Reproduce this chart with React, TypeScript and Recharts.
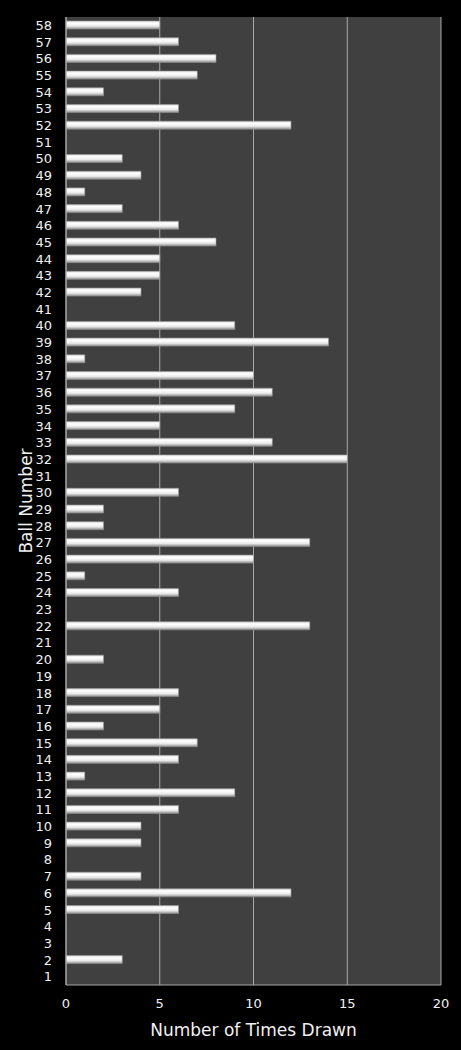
import { BarChart, Bar, XAxis, YAxis, CartesianGrid } from "recharts";

// ball numbers 1..58 and how many times each was drawn
const balls = Array.from({ length: 58 }, (_, i) => String(i + 1));
const timesDrawn = [
  0, 3, 0, 0, 6, 12, 4, 0, 4, 4,
  6, 9, 1, 6, 7, 2, 5, 6, 0, 2,
  0, 13, 0, 6, 1, 10, 13, 2, 2, 6,
  0, 15, 11, 5, 9, 11, 10, 1, 14, 9,
  0, 4, 5, 5, 8, 6, 3, 1, 4, 3,
  0, 12, 6, 2, 7, 8, 6, 5,
];
const xTicks = [0, 5, 10, 15, 20];

const data = balls.map((b, i) => ({ ball: b, count: timesDrawn[i] }));

const font = "'DejaVu Sans', Verdana, sans-serif";

export default function App() {
  return (
    <div style={{ position: "absolute", left: 0, top: 0, width: 461, height: 1050, background: "#000", fontFamily: font }}>
      <BarChart
        layout="vertical"
        width={461}
        height={1050}
        data={data}
        margin={{ top: 17, right: 20, left: 0, bottom: 0 }}
        barCategoryGap={0}
      >
        <defs>
          <linearGradient id="barShade" x1="0" y1="0" x2="0" y2="1">
            <stop offset="0%" stopColor="#e4e4e4" />
            <stop offset="30%" stopColor="#ffffff" />
            <stop offset="65%" stopColor="#e8e8e8" />
            <stop offset="100%" stopColor="#8c8c8c" />
          </linearGradient>
        </defs>
        <CartesianGrid horizontal={false} fill="#404040" stroke="#a8a8a8" strokeWidth={1} />
        <XAxis
          type="number"
          domain={[0, 20]}
          ticks={xTicks}
          height={65}
          tickLine={false}
          axisLine={{ stroke: "#a8a8a8" }}
          tick={{ fill: "#f0f0f0", fontSize: 13, fontFamily: font }}
          tickMargin={8}
          label={{ value: "Number of Times Drawn", position: "insideBottom", offset: 14, fill: "#f0f0f0", fontSize: 17, fontFamily: font }}
        />
        <YAxis
          type="category"
          dataKey="ball"
          reversed
          width={66}
          interval={0}
          tickLine={false}
          axisLine={{ stroke: "#a8a8a8" }}
          tick={{ fill: "#f0f0f0", fontSize: 13, fontFamily: font }}
          tickMargin={8}
          label={{
            value: "Ball Number",
            angle: -90,
            position: "insideLeft",
            offset: 26,
            fill: "#f0f0f0",
            fontSize: 17,
            fontFamily: font,
            style: { textAnchor: "middle" },
          }}
        />
        <Bar
          dataKey="count"
          barSize={8}
          fill="url(#barShade)"
          stroke="#9a9a9a"
          strokeWidth={0.6}
          isAnimationActive={false}
        />
      </BarChart>
    </div>
  );
}
